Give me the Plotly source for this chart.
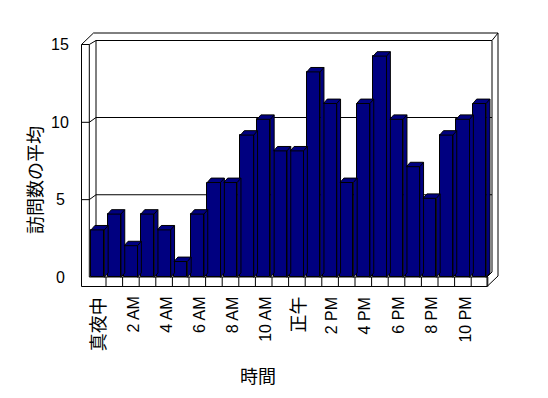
import plotly.graph_objects as go

# ---- data ----
hours = list(range(24))
visits = [3, 4, 2, 4, 3, 1, 4, 6, 6, 9, 10, 8, 8, 13, 11, 6, 11, 14, 10, 7, 5, 9, 10, 11]
tick_hours = [0, 2, 4, 6, 8, 10, 12, 14, 16, 18, 20, 22]
tick_labels = ["真夜中", "2 AM", "4 AM", "6 AM", "8 AM", "10 AM", "正午",
               "2 PM", "4 PM", "6 PM", "8 PM", "10 PM"]
y_ticks = [0, 5, 10, 15]
y_title = "訪問数の平均"
x_title = "時間"

# ---- layout geometry (screen pixels; page body has an 8px margin) ----
W, H = 548, 398
OFF = 8
PX_X, X0_S = 16.6, 97.7       # px per category, screen px of category 0 center
PX_Y, Y0_S = 15.8, 277.3      # px per unit value, screen px of value 0
PB_S = 290                    # plot-area bottom (screen px)

X0_F, Y0_F, PB_F = X0_S - OFF, Y0_S - OFF, PB_S - OFF
xmin, xmax = -X0_F / PX_X, (W - X0_F) / PX_X
ymin, ymax = -(PB_F - Y0_F) / PX_Y, Y0_F / PX_Y


def X(sx):
    return (sx - X0_S) / PX_X


def Y(sy):
    return (Y0_S - sy) / PX_Y


def PXp(sx):
    return (sx - OFF) / W


def PYp(sy):
    return (PB_F - (sy - OFF)) / PB_F


NAVY = "#000080"
BW = 0.8             # bar width (categories)
DX, DY = 0.23, 0.28  # depth offset in data units

fig = go.Figure()

# front faces
fig.add_trace(go.Bar(x=hours, y=visits, width=BW,
                     marker=dict(color=NAVY, line=dict(color="black", width=1)),
                     hoverinfo="skip"))

# top + side faces (hexagons) and ridge edges
px_, py_, ex, ey = [], [], [], []
for h, v in zip(hours, visits):
    l, r = h - BW / 2, h + BW / 2
    px_ += [l, l + DX, r + DX, r + DX, r, r, l, None]
    py_ += [v, v + DY, v + DY, DY, 0, v, v, None]
    ex += [r, r + DX, None]
    ey += [v, v + DY, None]
fig.add_trace(go.Scatter(x=px_, y=py_, mode="lines", fill="toself",
                         fillcolor=NAVY, line=dict(color="black", width=1),
                         hoverinfo="skip"))
fig.add_trace(go.Scatter(x=ex, y=ey, mode="lines",
                         line=dict(color="black", width=1), hoverinfo="skip"))

# ---- frame (walls / floor) ----
shapes = []


def seg(p1, p2):
    shapes.append(dict(type="line", xref="x", yref="y", layer="below",
                       x0=X(p1[0]), y0=Y(p1[1]), x1=X(p2[0]), y1=Y(p2[1]),
                       line=dict(color="black", width=1)))


LO, LI, BL, BR, BRO = 81.5, 89.3, 96, 492, 498
TOPO, TOPI, LT = 33, 40.5, 44.5
FT, FB = 277, 286.5
BACK0 = 272

# left wall
seg((LO, LT), (LO, FB))
seg((LI, LT), (LI, FT))
seg((LO, LT), (LI, LT))
seg((LO, LT), (93.5, TOPO))
seg((LI, LT), (BL, TOPI))
seg((BL, TOPI), (BL, BACK0))
# back wall
seg((93.5, TOPO), (BRO, TOPO))
seg((BL, TOPI), (BR, TOPI))
seg((BR, TOPI), (BRO, TOPO))
seg((BR, TOPI), (BR, BACK0))
seg((BRO, TOPO), (BRO, 276))
# floor
seg((LO, FB), (487, FB))
seg((LI, FT), (487, FT))
seg((487, FT), (487, FB))
seg((487, FB), (BRO, 276))
seg((487, FT), (BR, BACK0))
# category ticks on floor front
for h in hours:
    b = h + 0.5
    shapes.append(dict(type="line", xref="x", yref="y", layer="below",
                       x0=b, x1=b, y0=Y(FT), y1=Y(FB),
                       line=dict(color="black", width=1)))
# gridlines (back wall) with ticks across the side wall
for v in y_ticks[1:-1]:
    fy = 277 - 15.47 * v
    by = BACK0 - 15.45 * v
    seg((LO, fy), (LI, fy))
    seg((LI, fy), (BL, by))
    seg((BL, by), (BR, by))

annotations = []
for v in y_ticks:
    annotations.append(dict(xref="paper", yref="paper", x=PXp(60),
                            y=PYp(277 - 15.47 * v), text=str(v),
                            showarrow=False, xanchor="center", yanchor="middle",
                            font=dict(size=16, color="black")))
# category labels (rotated)
for h, t in zip(tick_hours, tick_labels):
    cjk = any(ord(c) > 0x2E80 for c in t)
    sx = X0_S + (h + 0.1) * PX_X
    annotations.append(dict(xref="paper", yref="paper", x=PXp(sx), y=PYp(295),
                            text=t, textangle=-90, showarrow=False,
                            xanchor="center", yanchor="top",
                            font=dict(size=18 if cjk else 16, color="black")))
annotations.append(dict(xref="paper", yref="paper", x=PXp(36), y=PYp(180),
                        text=y_title, textangle=-90, showarrow=False,
                        xanchor="center", yanchor="middle",
                        font=dict(size=18, color="black")))
annotations.append(dict(xref="paper", yref="paper", x=PXp(258), y=PYp(377),
                        text=x_title, showarrow=False,
                        xanchor="center", yanchor="middle",
                        font=dict(size=18, color="black")))

fig.update_layout(
    width=W, height=H,
    margin=dict(l=0, r=0, t=0, b=H - PB_F, pad=0),
    paper_bgcolor="white", plot_bgcolor="white",
    showlegend=False,
    font=dict(family="Arial, Liberation Sans, Noto Sans CJK JP", color="black"),
    shapes=shapes, annotations=annotations,
    bargap=0,
    xaxis=dict(range=[xmin, xmax], showgrid=False, zeroline=False,
               showline=False, showticklabels=False, ticks="", fixedrange=True),
    yaxis=dict(range=[ymin, ymax], visible=False, fixedrange=True),
)

fig.write_html("out.html")
